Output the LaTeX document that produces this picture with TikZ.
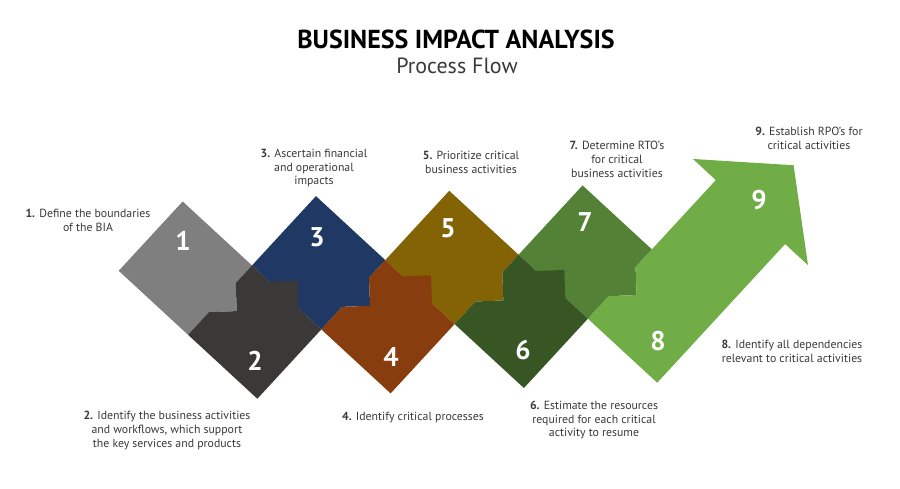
\documentclass[tikz,border=0pt]{standalone}
\usepackage{fontspec}
\setmainfont{PT Sans}
\definecolor{cA}{HTML}{7F7F7F}
\definecolor{cB}{HTML}{3B3838}
\definecolor{cC}{HTML}{1F3864}
\definecolor{cD}{HTML}{883D0E}
\definecolor{cE}{HTML}{836304}
\definecolor{cF}{HTML}{375623}
\definecolor{cG}{HTML}{538135}
\definecolor{cH}{HTML}{70AD47}
\definecolor{txt}{HTML}{3A3A3A}
\def\hh{66.7}
\def\ta{17}
\def\tb{45}
\def\Y{257.5}
% odd piece: #1 = x of right vertex (junction), #2 colour
\newcommand\oddpiece[2]{%
  \fill[#2] ({#1-\hh},{\Y-\hh}) -- ({#1},{\Y}) -- ({#1-\ta},{\Y+\ta}) -- ({#1-\ta},{\Y+\tb})
    -- ({#1-\tb},{\Y+\tb}) -- ({#1-\hh},{\Y+\hh}) -- ({#1-2*\hh},{\Y}) -- cycle;}
% even piece: #1 = x of top vertex (junction), #2 colour
\newcommand\evenpiece[2]{%
  \fill[#2] ({#1},{\Y}) -- ({#1+\ta},{\Y+\ta}) -- ({#1+\tb},{\Y+\ta}) -- ({#1+\tb},{\Y+\tb})
    -- ({#1+\hh},{\Y+\hh}) -- ({#1},{\Y+2*\hh}) -- ({#1-\hh},{\Y+\hh}) -- ({#1-\tb},{\Y+\tb})
    -- ({#1-\ta},{\Y+\tb}) -- ({#1-\ta},{\Y+\ta}) -- cycle;}
\tikzset{
  lbl/.style={align=center, text=txt, font=\fontsize{11.8}{13.8}\selectfont, inner sep=0pt},
  num/.style={text=white, font=\bfseries\fontsize{27}{27}\selectfont, inner sep=0pt}
}
\begin{document}
\begin{tikzpicture}[x=1pt,y=-1pt]
\fill[white] (0,0) rectangle (900,488);
\useasboundingbox (0,0) rectangle (900,488);
\begin{scope}[rotate around={2.3:(450,262)}]
  \oddpiece{252}{cA}
  \oddpiece{385.4}{cC}
  \oddpiece{518.8}{cE}
  \oddpiece{652.2}{cG}
  \evenpiece{252}{cB}
  \evenpiece{385.4}{cD}
  \evenpiece{518.8}{cF}
  % piece 8 with arrow 9
  \def\T{652.2}
  \fill[cH] ({\T},{\Y}) -- ({\T+\hh},{\Y-\hh}) -- ({\T+\hh-22},{\Y-\hh-22})
    -- ({\T+145},{\Y-78.4}) -- ({\T+2*\hh+22},{\Y+22}) -- ({\T+2*\hh},{\Y})
    -- ({\T+\hh},{\Y+\hh}) -- ({\T},{\Y+2*\hh}) -- ({\T-\hh},{\Y+\hh}) -- ({\T-\tb},{\Y+\tb})
    -- ({\T-\ta},{\Y+\tb}) -- ({\T-\ta},{\Y+\ta}) -- cycle;
\end{scope}
\node[num] (n1) at (183,241) {1};
\node[num] (n2) at (255,361) {2};
\node[num] (n3) at (317,237) {3};
\node[num] (n4) at (391,357) {4};
\node[num] (n5) at (448,228) {5};
\node[num] (n6) at (523,350) {6};
\node[num] (n7) at (585,222) {7};
\node[num] (n8) at (658,341) {8};
\node[num] (n9) at (759,200) {9};
\node[font=\bfseries\fontsize{26}{30}\selectfont, inner sep=0pt] (title) at (456,39) {BUSINESS IMPACT ANALYSIS};
\node[text=txt, font=\fontsize{22}{26}\selectfont, inner sep=0pt] (sub) at (457,66) {Process Flow};
\node[lbl] (l1) at (88,220) {\textbf{1.} Define the boundaries\\of the BIA};
\node[lbl] (l2) at (167,430.5) {\textbf{2.} Identify the business activities\\and workflows, which support\\the key services and products};
\node[lbl] (l3) at (314,168) {\textbf{3.} Ascertain financial\\and operational\\impacts};
\node[lbl] (l4) at (413,418) {\textbf{4.} Identify critical processes};
\node[lbl] (l5) at (471,162.5) {\textbf{5.} Prioritize critical\\business activities};
\node[lbl] (l6) at (594,420) {\textbf{6.} Estimate the resources\\required for each critical\\activity to resume};
\node[lbl] (l7) at (617,159.5) {\textbf{7.} Determine RTO's\\for critical\\business activities};
\node[lbl] (l8) at (792,351) {\textbf{8.} Identify all dependencies\\relevant to critical activities};
\node[lbl] (l9) at (809,138) {\textbf{9.} Establish RPO's for\\critical activities};
\end{tikzpicture}
\end{document}
